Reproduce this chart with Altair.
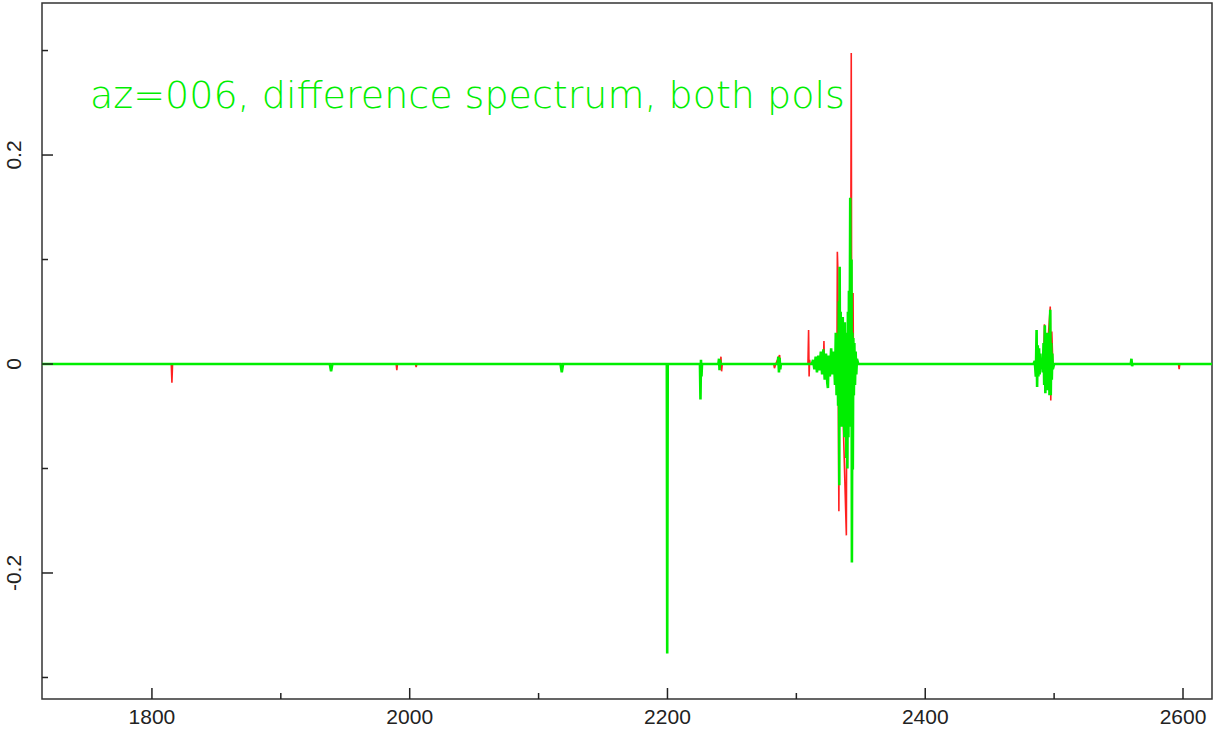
import altair as alt
import pandas as pd

# ---- data ----
green_x = [1714.7, 1938, 1939, 1940, 2117, 2118, 2119, 2199.5, 2199.8, 2200.2,
           2225.2, 2225.6, 2226, 2226.4, 2226.8, 2239.5, 2240, 2240.4, 2240.8, 2241.2,
           2285.5, 2286, 2286.5, 2287, 2287.5, 2288,
           2312, 2313, 2314, 2315, 2316, 2317, 2318, 2319, 2320, 2321, 2322, 2323, 2324,
           2324.5, 2325, 2326, 2327, 2328, 2329, 2330, 2330.6, 2331.2, 2331.8, 2332.4,
           2333, 2333.3, 2333.6, 2334, 2334.4, 2334.8, 2335.2, 2335.6, 2336, 2336.4,
           2336.8, 2337.2, 2337.6, 2338, 2338.4, 2338.8, 2339.2, 2339.6, 2340, 2340.4,
           2340.8, 2341.2, 2341.8, 2342.3, 2342.8, 2343.1, 2343.5, 2343.8, 2344.2, 2344.6,
           2345, 2345.5, 2346, 2346.5, 2347, 2348,
           2484, 2485, 2485.8, 2486.4, 2486.8, 2487.3, 2487.8, 2488.3, 2488.8, 2489.3,
           2489.8, 2490.5, 2491.2, 2491.8, 2492.3, 2492.8, 2493.2, 2493.6, 2494, 2494.4,
           2494.8, 2495.2, 2495.6, 2496, 2496.4, 2496.8, 2497.0, 2497.4, 2497.8, 2498.2,
           2498.6, 2499, 2500,
           2559.5, 2560, 2560.5, 2561, 2622.5]
green_y = [0, 0, -0.007, 0, 0, -0.008, 0, 0, -0.277, 0,
           0, -0.034, 0.004, -0.012, 0, 0, 0.005, -0.006, 0.004, 0,
           0, 0.007, -0.008, 0.006, -0.005, 0,
           0, 0.004, -0.005, 0.007, -0.008, 0.008, -0.006, 0.012, -0.01, 0.014, -0.015, 0.01, -0.018,
           -0.023, 0.008, -0.012, 0.015, -0.01, 0.012, -0.02, 0.03, -0.03, 0.025, -0.04,
           0.06, -0.116, 0.093, -0.06, 0.05, -0.05, 0.04, -0.06, 0.045, -0.05,
           0.03, -0.07, 0.04, -0.06, 0.03, -0.09, 0.03, -0.1, 0.05, -0.07,
           0.07, -0.05, 0.159, -0.06, 0.1, -0.19, 0.03, -0.101, 0.025, -0.03,
           0.02, -0.02, 0.012, -0.01, 0.005, 0,
           0, 0.003, -0.012, 0.0325, -0.022, 0.018, -0.012, 0.015, -0.01, 0.01,
           -0.005, 0.006, -0.008, 0.02, -0.02, 0.037, -0.028, 0.03, -0.025, 0.03,
           -0.02, 0.025, -0.025, 0.03, -0.03, 0.04, 0.052, -0.03, 0.02, -0.015,
           0.01, -0.005, 0,
           0, 0.005, -0.002, 0, 0]

red_x = [1714.7, 1815, 1815.5, 1816, 1989.5, 1990, 1990.5, 2004.5, 2005, 2005.5,
         2241, 2241.5, 2242, 2242.5, 2282.5, 2283, 2284, 2287, 2287.5,
         2309, 2309.5, 2309.9, 2310.3, 2310.7, 2321, 2321.4, 2321.8,
         2331.5, 2331.8, 2332.2, 2332.6, 2333.0, 2333.4, 2336, 2338.8, 2339.2,
         2342.0, 2342.6, 2343.0, 2344.0, 2344.4, 2345,
         2491.8, 2492.5, 2493, 2497, 2497.4, 2498.2, 2499,
         2596.5, 2597, 2597.5, 2622.5]
red_y = [0, 0, -0.018, 0, 0, -0.006, 0, 0, -0.003, 0,
         0, 0.007, -0.007, 0, 0, -0.004, 0, 0.0086, 0,
         0, 0.0325, -0.012, 0.004, 0, 0, 0.022, 0,
         0, 0.1075, 0.09, -0.05, -0.141, 0.02, -0.04, -0.164, 0.02,
         -0.03, 0.2976, -0.05, 0.068, -0.03, 0,
         0, 0.038, -0.02, 0.055, -0.035, 0.031, 0,
         0, -0.005, 0, 0]

x_major = [1800, 2000, 2200, 2400, 2600]
x_major_labels = ["1800", "2000", "2200", "2400", "2600"]
x_minor = [1900, 2100, 2300, 2500]
y_major = [-0.2, 0, 0.2]
y_major_labels = ["-0.2", "0", "0.2"]
y_minor = [-0.3, -0.1, 0.1, 0.3]
title_text = "az=006, difference spectrum, both pols"

W, H = 1170, 696
xs = alt.Scale(domain=[1714.7, 2622.5], nice=False, zero=False)
ys = alt.Scale(domain=[-0.3206, 0.3455], nice=False, zero=False)

red_df = pd.DataFrame({"x": red_x, "y": red_y, "i": list(range(len(red_x)))})
green_df = pd.DataFrame({"x": green_x, "y": green_y, "i": list(range(len(green_x)))})

lab_font = "Liberation Sans"
lab_color = "#222"

red = alt.Chart(red_df).mark_line(color="#ff2020", strokeWidth=1.6, clip=True).encode(
    x=alt.X("x:Q", scale=xs, axis=None),
    y=alt.Y("y:Q", scale=ys, axis=None),
    order="i:Q",
)

green = alt.Chart(green_df).mark_line(color="#00ee00", strokeWidth=2.6, clip=True).encode(
    x=alt.X("x:Q", scale=xs, axis=None),
    y=alt.Y("y:Q", scale=ys, axis=None),
    order="i:Q",
)

tick_color = "#222"
xmaj = alt.Chart(pd.DataFrame({"v": x_major})).mark_rule(color=tick_color, strokeWidth=1.5).encode(
    x=alt.X("v:Q", scale=xs, axis=None), y=alt.value(H), y2=alt.value(H - 11))
xmin = alt.Chart(pd.DataFrame({"v": x_minor})).mark_rule(color=tick_color, strokeWidth=1.5).encode(
    x=alt.X("v:Q", scale=xs, axis=None), y=alt.value(H), y2=alt.value(H - 6))
ymaj = alt.Chart(pd.DataFrame({"v": y_major})).mark_rule(color=tick_color, strokeWidth=1.5).encode(
    y=alt.Y("v:Q", scale=ys, axis=None), x=alt.value(0), x2=alt.value(11))
ymin = alt.Chart(pd.DataFrame({"v": y_minor})).mark_rule(color=tick_color, strokeWidth=1.5).encode(
    y=alt.Y("v:Q", scale=ys, axis=None), x=alt.value(0), x2=alt.value(6))

xlab = alt.Chart(pd.DataFrame({"v": x_major, "t": x_major_labels})).mark_text(
    font=lab_font, fontSize=21, color=lab_color, align="center", baseline="middle"
).encode(x=alt.X("v:Q", scale=xs, axis=None), y=alt.value(H + 19), text="t:N")

ylab = alt.Chart(pd.DataFrame({"v": y_major, "t": y_major_labels})).mark_text(
    font=lab_font, fontSize=21, color=lab_color, align="center", baseline="middle", angle=270
).encode(y=alt.Y("v:Q", scale=ys, axis=None), x=alt.value(-27), text="t:N")

label = alt.Chart(pd.DataFrame({"t": [title_text]})).mark_text(
    font="DejaVu Sans", fontSize=38, fontWeight=200, color="#00ee00",
    align="left", baseline="alphabetic"
).encode(text="t:N", x=alt.value(48), y=alt.value(105))

chart = alt.layer(red, green, xmaj, xmin, ymaj, ymin, xlab, ylab, label).properties(
    width=W, height=H,
    padding={"left": 42, "top": 3, "right": 13, "bottom": 37},
    autosize=alt.AutoSizeParams(type="none"),
    background="white",
).configure_view(stroke="#333", strokeWidth=1.5)

chart.save("out.html", embed_options={"renderer": "svg", "actions": False})
